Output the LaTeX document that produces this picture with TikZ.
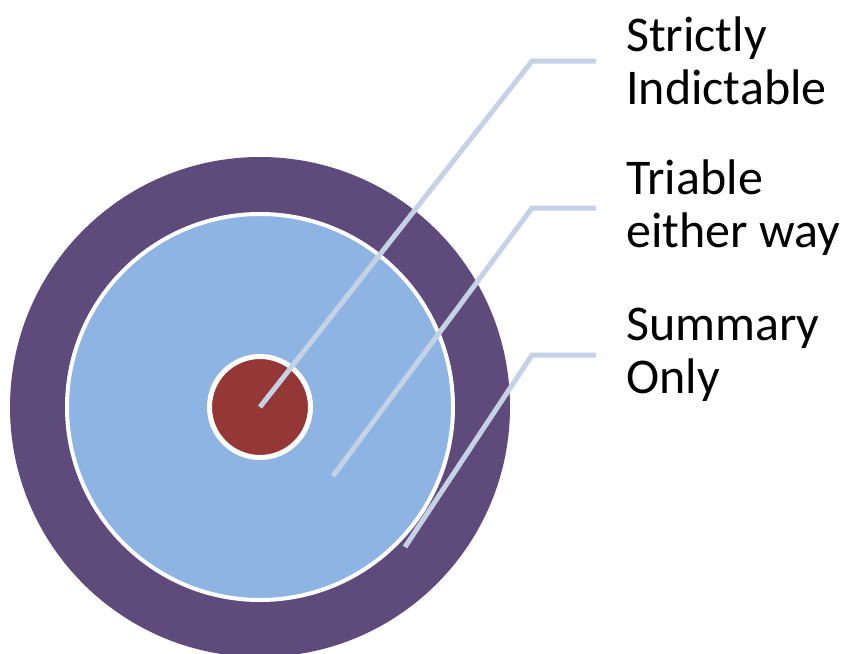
\documentclass[tikz,border=0pt]{standalone}
\usepackage{fontspec}
\setmainfont{Carlito}
\usetikzlibrary{positioning}
\definecolor{ringpurple}{RGB}{95,75,123}
\definecolor{midblue}{RGB}{142,180,227}
\definecolor{coredred}{RGB}{149,55,53}
\definecolor{leadgrey}{RGB}{197,210,229}
\tikzset{
	ring/.style={circle,inner sep=0pt},
	lead/.style={line width=5pt,color=leadgrey},
	lbl/.style={inner sep=0pt,align=left,font=\fontsize{50}{53}\selectfont}
}
\begin{document}
\begin{tikzpicture}[x=1pt,y=-1pt,node distance=30pt]
	\useasboundingbox (0,0) rectangle (845,653);
	% Place nodes
	\node [ring,fill=ringpurple,minimum size=500pt] (outer) at (260,407) {};
	\node [ring,fill=midblue,draw=white,line width=4pt,minimum size=386pt] (middle) at (260,407) {};
	\node [ring,fill=coredred,draw=white,line width=5pt,minimum size=101pt] (core) at (260,407) {};

	\coordinate (start2) at (333,476);
	\coordinate (start3) at (405,547);
	\coordinate (bend1) at (532,61);
	\coordinate (bend2) at (532,208);
	\coordinate (bend3) at (532,355);
	\coordinate (end1) at (596,61);
	\coordinate (end2) at (596,208);
	\coordinate (end3) at (596,355);

	\node [lbl,right=of end1] (strict) {Strictly\\Indictable};
	\node [lbl,right=of end2] (either) {Triable\\either way};
	\node [lbl,right=of end3] (summary) {Summary\\Only};

	% Leader lines
	\draw [lead] (core.center) -- (bend1) -- (end1);
	\draw [lead] (start2) -- (bend2) -- (end2);
	\draw [lead] (start3) -- (bend3) -- (end3);
\end{tikzpicture}
\end{document}
